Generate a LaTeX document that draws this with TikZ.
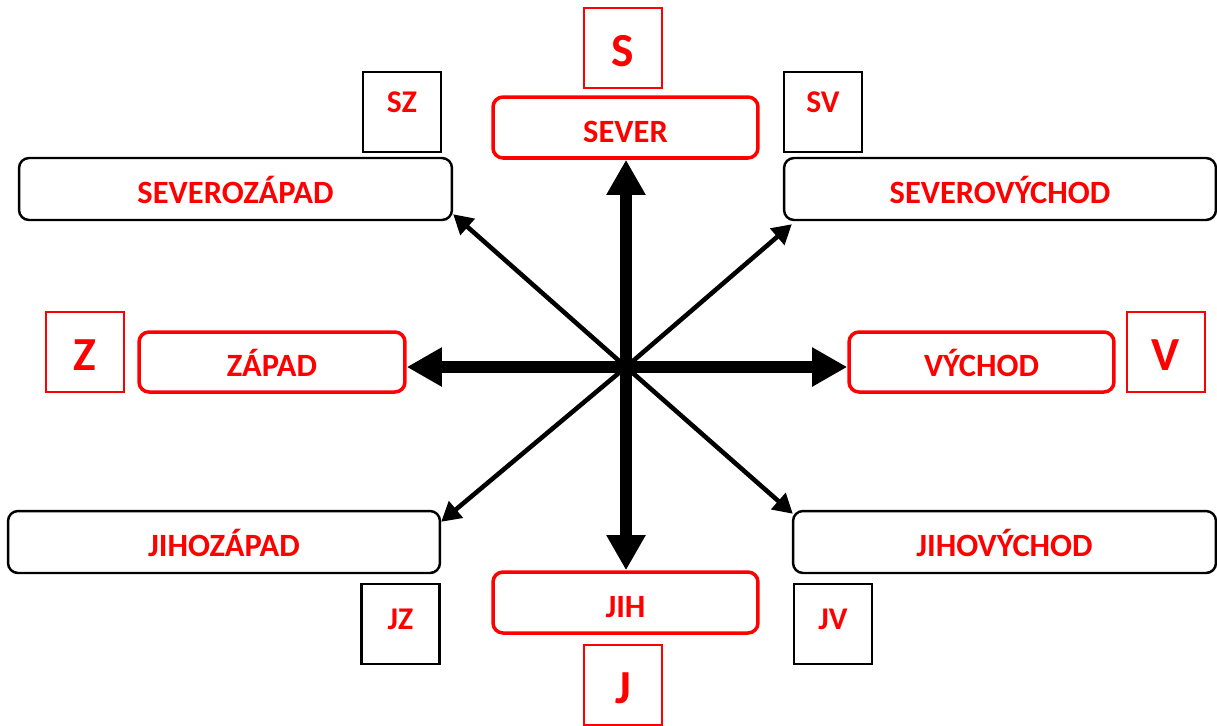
\documentclass[tikz,border=0pt]{standalone}
\usepackage{fontspec}
\setmainfont{Carlito}
\usepackage{xcolor}
\definecolor{smerred}{RGB}{255, 0, 0}
\usetikzlibrary{arrows.meta,positioning}

\begin{document}
\begin{tikzpicture}[x=0.02cm, y=-0.02cm,
    hlavni/.style={rectangle, rounded corners=0.2cm, draw=smerred, line width=2pt, minimum width=5.3cm, minimum height=1.22cm, font=\fontsize{18.5}{21}\selectfont\bfseries, text=smerred, text height=16.5pt, text depth=0pt},
    vedlejsi/.style={rectangle, rounded corners=0.2cm, draw=black, line width=1.4pt, minimum height=1.24cm, font=\fontsize{18.5}{21}\selectfont\bfseries, text=smerred, text height=16.5pt, text depth=0pt},
    pismeno/.style={rectangle, draw=smerred, line width=0.9pt, minimum width=1.56cm, minimum height=1.6cm, font=\fontsize{27}{30}\selectfont\bfseries, text=smerred, text height=20.5pt, text depth=0pt},
    roh/.style={rectangle, draw=black, line width=1.2pt, minimum width=1.56cm, minimum height=1.6cm, font=\fontsize{18}{21}\selectfont\bfseries, text=smerred, text height=11.5pt},
    hlavnisipka/.style={-{Triangle[length=20pt,width=21pt]}, line width=6.8pt},
    sipka/.style={-{Triangle[length=11pt,width=12pt]}, line width=2.6pt}]
    \useasboundingbox (0,0) rectangle (1217,725);

    \coordinate (stred) at (626,367);

    % hlavni svetove strany
    \node[hlavni] (sever) at (625.5,127.5) {SEVER};
    \node[hlavni] (jih) at (625.5,602.5) {JIH};
    \node[hlavni, minimum width=5.32cm, minimum height=1.2cm] (zapad) at (272,362) {ZÁPAD};
    \node[hlavni, minimum height=1.2cm] (vychod) at (981.5,362) {VÝCHOD};

    % vedlejsi svetove strany
    \node[vedlejsi, minimum width=8.66cm] (szapad) at (235.5,189) {SEVEROZÁPAD};
    \node[vedlejsi, minimum width=8.64cm] (svychod) at (1000,189) {SEVEROVÝCHOD};
    \node[vedlejsi, minimum width=8.64cm] (jzapad) at (224,542) {JIHOZÁPAD};
    \node[vedlejsi, minimum width=8.46cm] (jvychod) at (1004.5,542) {JIHOVÝCHOD};

    % zkratky
    \node[pismeno] (s) at (623,48) {S};
    \node[pismeno] (j) at (623,685) {J};
    \node[pismeno] (z) at (85,352) {Z};
    \node[pismeno] (v) at (1166,352) {V};
    \node[roh, text depth=10.5pt] (sz) at (402,112) {SZ};
    \node[roh, text depth=10.5pt] (sv) at (823,112) {SV};
    \node[roh, text depth=5pt] (jz) at (400.5,624) {JZ};
    \node[roh, text depth=5pt] (jv) at (833,624) {JV};

    \draw[sipka] (stred) -- ([yshift=0.14cm]szapad.south east);
    \draw[sipka] (stred) -- ([xshift=0.18cm, yshift=-0.06cm]svychod.south west);
    \draw[sipka] (stred) -- ([yshift=-0.24cm]jzapad.north east);
    \draw[sipka] (stred) -- ([xshift=0.02cm, yshift=-0.08cm]jvychod.north west);

    \draw[hlavnisipka] (stred) -- (stred |- sever.south);
    \draw[hlavnisipka] (stred) -- (stred |- jih.north);
    \draw[hlavnisipka] (stred) -- (stred -| zapad.east);
    \draw[hlavnisipka] (stred) -- (stred -| vychod.west);
\end{tikzpicture}
\end{document}
